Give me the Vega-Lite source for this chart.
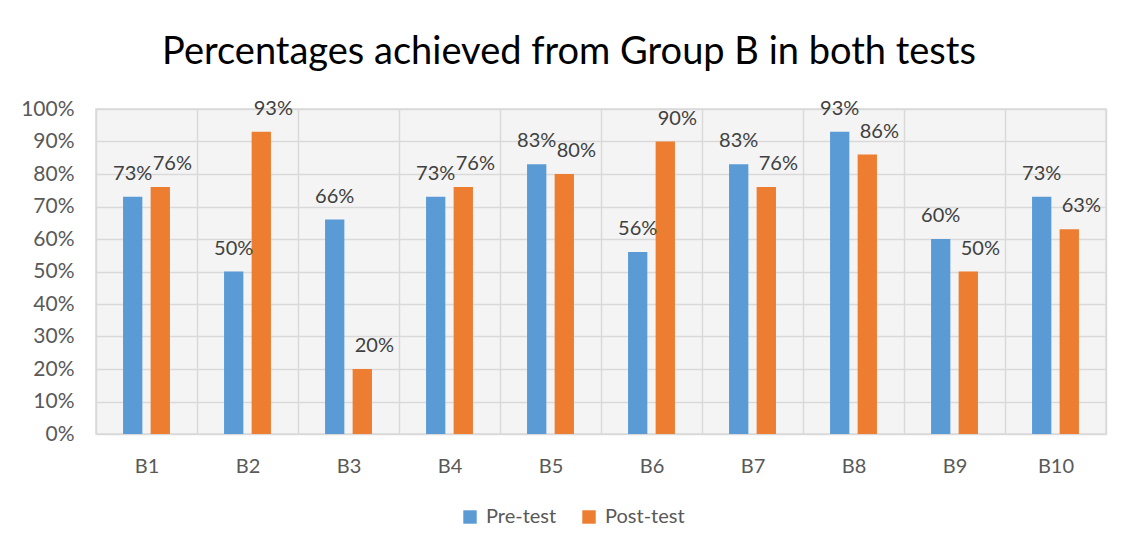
{
  "$schema": "https://vega.github.io/schema/vega-lite/v6.json",
  "autosize": {"type": "none"},
  "width": 1010,
  "height": 325,
  "padding": {"left": 96, "top": 109, "right": 31, "bottom": 120},
  "background": "white",
  "title": {
    "text": "Percentages achieved from Group B in both tests",
    "font": "Lato",
    "fontSize": 38,
    "fontWeight": "normal",
    "color": "#000000",
    "anchor": "middle",
    "dx": -32,
    "offset": 26
  },
  "config": {
    "view": {"stroke": "#d9d9d9", "strokeWidth": 1.5, "fill": "#f4f4f4"},
    "font": "Lato"
  },
  "data": {
    "values": [
      {"student": "B1", "test": "Pre-test", "value": 0.73},
      {"student": "B1", "test": "Post-test", "value": 0.76},
      {"student": "B2", "test": "Pre-test", "value": 0.50},
      {"student": "B2", "test": "Post-test", "value": 0.93},
      {"student": "B3", "test": "Pre-test", "value": 0.66},
      {"student": "B3", "test": "Post-test", "value": 0.20},
      {"student": "B4", "test": "Pre-test", "value": 0.73},
      {"student": "B4", "test": "Post-test", "value": 0.76},
      {"student": "B5", "test": "Pre-test", "value": 0.83},
      {"student": "B5", "test": "Post-test", "value": 0.80},
      {"student": "B6", "test": "Pre-test", "value": 0.56},
      {"student": "B6", "test": "Post-test", "value": 0.90},
      {"student": "B7", "test": "Pre-test", "value": 0.83},
      {"student": "B7", "test": "Post-test", "value": 0.76},
      {"student": "B8", "test": "Pre-test", "value": 0.93},
      {"student": "B8", "test": "Post-test", "value": 0.86},
      {"student": "B9", "test": "Pre-test", "value": 0.60},
      {"student": "B9", "test": "Post-test", "value": 0.50},
      {"student": "B10", "test": "Pre-test", "value": 0.73},
      {"student": "B10", "test": "Post-test", "value": 0.63}
    ]
  },
  "encoding": {
    "x": {
      "field": "student",
      "type": "nominal",
      "sort": null,
      "scale": {"paddingInner": 0, "paddingOuter": 0},
      "axis": {
        "title": null,
        "grid": true,
        "gridColor": "#d9d9d9",
        "gridWidth": 1.5,
        "tickBand": "extent",
        "ticks": false,
        "domain": false,
        "labelAngle": 0,
        "labelFontSize": 20,
        "labelColor": "#595959",
        "labelPadding": 22
      }
    },
    "xOffset": {
      "field": "test",
      "type": "nominal",
      "sort": ["Pre-test", "Post-test"],
      "scale": {"paddingInner": 0.3, "paddingOuter": 0.98}
    },
    "y": {
      "field": "value",
      "type": "quantitative",
      "scale": {"domain": [0, 1]},
      "axis": {
        "title": null,
        "values": [0, 0.1, 0.2, 0.3, 0.4, 0.5, 0.6, 0.7, 0.8, 0.9, 1],
        "format": ".0%",
        "grid": true,
        "gridColor": "#d9d9d9",
        "gridWidth": 1.5,
        "ticks": false,
        "domain": false,
        "labelOverlap": false,
        "labelFontSize": 21,
        "labelColor": "#595959",
        "labelPadding": 22
      }
    }
  },
  "layer": [
    {
      "mark": {"type": "bar"},
      "encoding": {
        "color": {
          "field": "test",
          "type": "nominal",
          "sort": ["Pre-test", "Post-test"],
          "scale": {"domain": ["Pre-test", "Post-test"], "range": ["#5b9bd5", "#ed7d31"]},
          "legend": {
            "title": null,
            "orient": "none",
            "direction": "horizontal",
            "legendX": 364,
            "legendY": 398,
            "symbolType": "square",
            "symbolSize": 180,
            "symbolStrokeWidth": 0,
            "labelFontSize": 20,
            "labelColor": "#595959",
            "columnPadding": 22,
            "labelOffset": 6
          }
        }
      }
    },
    {
      "transform": [{"filter": "datum.test === 'Pre-test'"}],
      "mark": {"type": "text", "fontSize": 20, "color": "#404040", "baseline": "bottom", "dy": -13},
      "encoding": {
        "text": {"field": "value", "type": "quantitative", "format": ".0%"}
      }
    },
    {
      "transform": [{"filter": "datum.test === 'Post-test'"}],
      "mark": {"type": "text", "fontSize": 20, "color": "#404040", "baseline": "bottom", "dy": -13, "dx": 12},
      "encoding": {
        "text": {"field": "value", "type": "quantitative", "format": ".0%"}
      }
    }
  ]
}
